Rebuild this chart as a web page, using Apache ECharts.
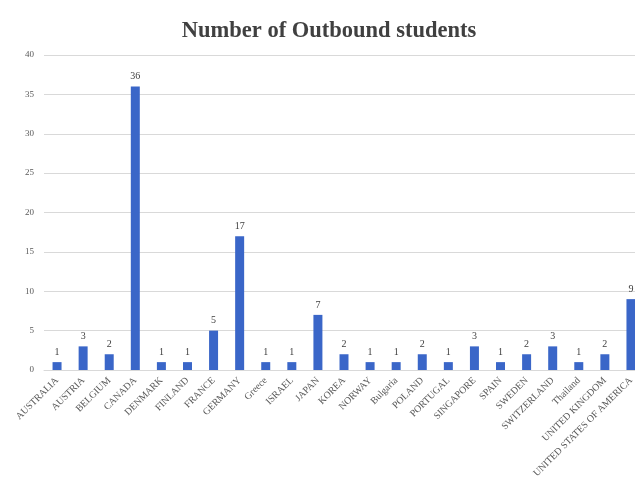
<!DOCTYPE html>
<html>
<head>
<meta charset="utf-8">
<script src="https://cdn.jsdelivr.net/npm/echarts@6/dist/echarts.min.js"></script>
<style>
  html, body { margin: 0; padding: 0; background: #ffffff; }
  #chart { width: 635px; height: 488px; }
</style>
</head>
<body>
<div id="chart"></div>
<script>
// Destination countries, in the order shown on the axis
const countries = [
  'AUSTRALIA', 'AUSTRIA', 'BELGIUM', 'CANADA', 'DENMARK', 'FINLAND', 'FRANCE',
  'GERMANY', 'Greece', 'ISRAEL', 'JAPAN', 'KOREA', 'NORWAY', 'Bulgaria', 'POLAND',
  'PORTUGAL', 'SINGAPORE', 'SPAIN', 'SWEDEN', 'SWITZERLAND', 'Thailand',
  'UNITED KINGDOM', 'UNITED STATES OF AMERICA'
];

// Outbound students per country
const students = [1, 3, 2, 36, 1, 1, 5, 17, 1, 1, 7, 2, 1, 1, 2, 1, 3, 1, 2, 3, 1, 2, 9];

// Value axis ticks
const yTicks = [0, 5, 10, 15, 20, 25, 30, 35, 40];

const chart = echarts.init(document.getElementById('chart'));
const serif = '"Liberation Serif", "Times New Roman", serif';

chart.setOption({
  animation: false,
  backgroundColor: '#ffffff',
  title: {
    text: 'Number of Outbound students',
    left: 324,
    textAlign: 'center',
    top: 15,
    textStyle: { fontFamily: serif, fontWeight: 'bold', fontSize: 22.5, color: '#404040' }
  },
  // the plot runs a little past the right edge of the page
  grid: { left: 44, top: 55, width: 600, height: 315, outerBoundsMode: 'none', containLabel: false },
  xAxis: {
    type: 'category',
    data: countries,
    axisLine: { lineStyle: { color: '#d9d9d9' } },
    axisTick: { show: false },
    axisLabel: {
      interval: 0,
      rotate: 45,
      margin: 9,
      fontFamily: serif,
      fontSize: 9.8,
      color: '#595959'
    }
  },
  yAxis: {
    type: 'value',
    min: yTicks[0],
    max: yTicks[yTicks.length - 1],
    interval: yTicks[1] - yTicks[0],
    axisLine: { show: false },
    axisTick: { show: false },
    splitLine: { lineStyle: { color: '#d9d9d9' } },
    axisLabel: { fontFamily: serif, fontSize: 9, color: '#595959', margin: 10 }
  },
  series: [{
    type: 'bar',
    data: students,
    barWidth: 9,
    itemStyle: { color: '#3a66c8' },
    label: {
      show: true,
      position: 'top',
      distance: 5,
      fontFamily: serif,
      fontSize: 10,
      color: '#404040'
    }
  }]
});
</script>
</body>
</html>
